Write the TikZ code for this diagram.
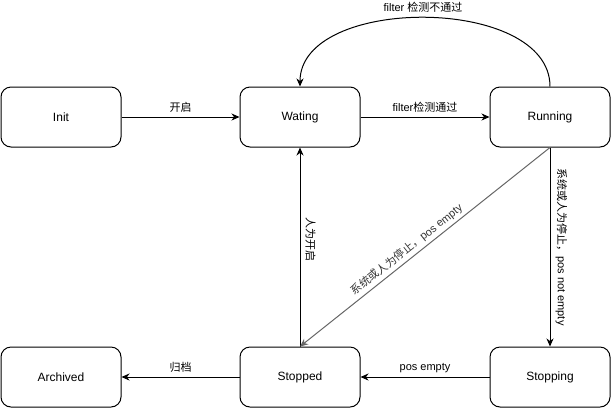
\documentclass[tikz,border=0pt]{standalone}
\usepackage{fontspec}
\setmainfont{Liberation Sans}
\newfontfamily\cjk{Noto Sans CJK SC}
\usetikzlibrary{arrows.meta}
\tikzset{
  state/.style={draw, line width=1pt, rounded corners=10pt, minimum width=120pt,
    minimum height=60pt, font=\fontsize{12}{14}\selectfont, inner sep=0pt},
  flow/.style={line width=1pt, -{Stealth[length=8pt,width=7pt,inset=2.5pt]}},
  lbl/.style={font=\fontsize{11}{13}\selectfont, inner sep=1pt},
}
\begin{document}
\begin{tikzpicture}[x=1pt,y=-1pt]
\useasboundingbox (0,0) rectangle (612,408);
% states
\node[state] (init)     at (61,117)  {Init};
\node[state] (wating)   at (300,117) {Wating};
\node[state] (running)  at (550,117) {Running};
\node[state] (archived) at (61,377)  {Archived};
\node[state] (stopped)  at (300,377) {Stopped};
\node[state] (stopping) at (550,377) {Stopping};
% transitions
\draw[flow] (init) -- node[lbl, above=3pt] {\cjk 开启} (wating);
\draw[flow] (wating) -- node[lbl, above=3pt] {filter\cjk 检测通过} (running);
\draw[flow] (running.north) .. controls (550,-5) and (300,-5) .. (wating.north);
\node[lbl] (fail) at (423,7) {filter {\cjk 检测不通过}};
\draw[flow] (stopped) -- node[lbl, rotate=-90, pos=0.54, above=4pt] {\cjk 人为开启} (wating);
\draw[flow, draw=black!60] (running.south) -- node[lbl, sloped, pos=0.55, above=2pt, text=black!80]
  {{\cjk 系统或人为停止，}pos empty} (stopped.north);
\draw[flow] (running) -- node[lbl, rotate=-90, above=4pt] {{\cjk 系统或人为停止，}pos not empty} (stopping);
\draw[flow] (stopping) -- node[lbl, above=3pt] {pos empty} (stopped);
\draw[flow] (stopped) -- node[lbl, above=3pt] {\cjk 归档} (archived);
\end{tikzpicture}
\end{document}
